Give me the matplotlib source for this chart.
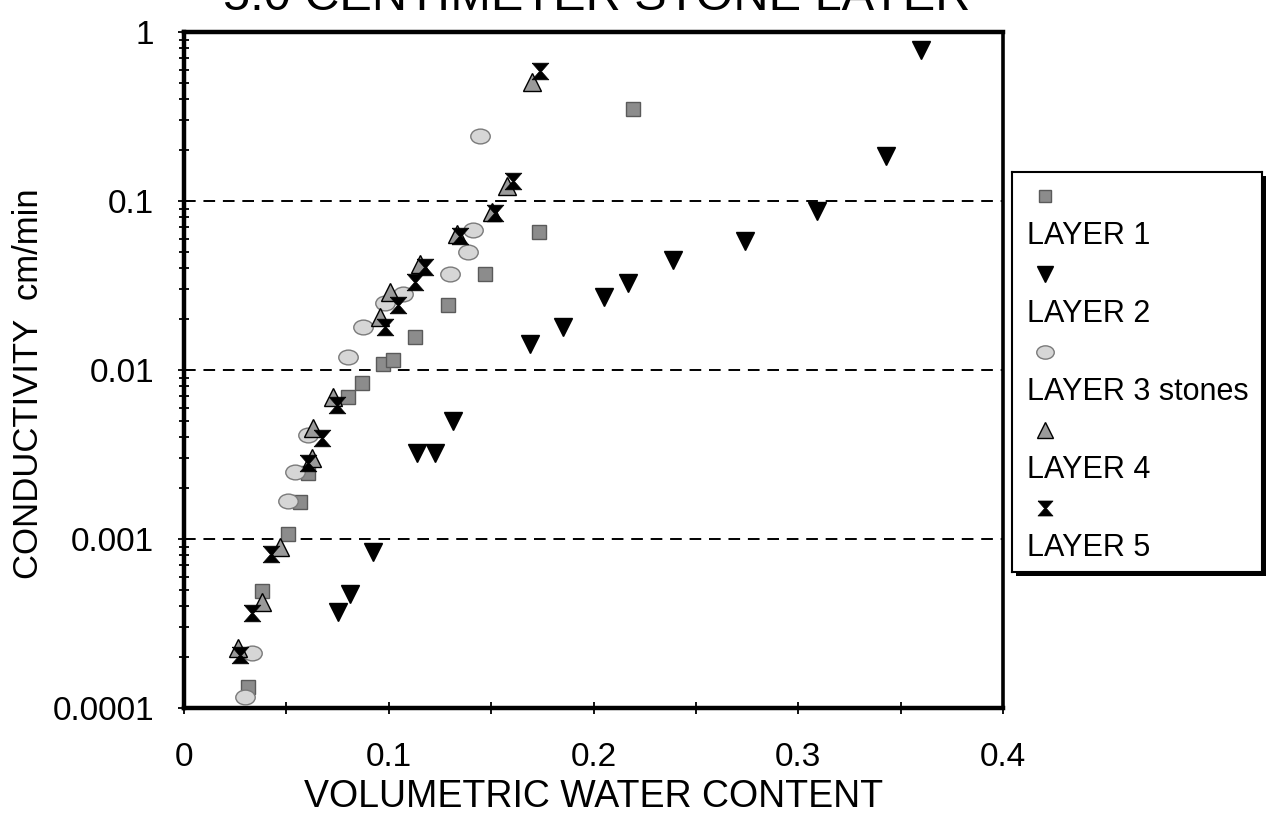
import numpy as np
import matplotlib
matplotlib.use("Agg")
import matplotlib.pyplot as plt
from matplotlib.path import Path
from matplotlib.patches import Rectangle
from matplotlib.ticker import FixedLocator, FuncFormatter, LogLocator, NullFormatter

plt.rcParams['font.family'] = ['Liberation Sans', 'DejaVu Sans']

# volumetric water content / conductivity (cm/min) per layer
layer1_theta = [0.0313, 0.0381, 0.0508, 0.0567, 0.0606, 0.0801, 0.0869, 0.0972,
                0.1021, 0.1128, 0.1289, 0.1470, 0.1734, 0.2193]
layer1_k = [1.33e-4, 4.9e-4, 1.07e-3, 1.66e-3, 2.47e-3, 6.9e-3, 8.4e-3, 0.0108,
            0.0114, 0.0156, 0.0244, 0.0368, 0.0653, 0.350]

layer2_theta = [0.0752, 0.0811, 0.0923, 0.1138, 0.1226, 0.1314, 0.169, 0.185,
                0.205, 0.217, 0.239, 0.274, 0.309, 0.343, 0.360]
layer2_k = [0.00037, 0.00047, 0.00084, 0.00324, 0.00324, 0.0050, 0.0142, 0.0179,
            0.0269, 0.0326, 0.0446, 0.0578, 0.087, 0.184, 0.78]

layer3_theta = [0.0298, 0.0332, 0.0508, 0.0542, 0.0606, 0.0801, 0.0874, 0.0982,
                0.1070, 0.1299, 0.1387, 0.1411, 0.1446]
layer3_k = [1.16e-4, 2.12e-4, 1.69e-3, 2.5e-3, 4.15e-3, 0.0119, 0.0179, 0.0248,
            0.028, 0.0368, 0.0497, 0.0671, 0.242]

layer4_theta = [0.0264, 0.0381, 0.0469, 0.0625, 0.0630, 0.0728, 0.0957, 0.1006,
                0.1153, 0.1333, 0.1504, 0.1578, 0.1700]
layer4_k = [2.27e-4, 4.25e-4, 9.0e-4, 3.03e-3, 4.56e-3, 6.97e-3, 0.0207, 0.0288,
            0.0422, 0.0635, 0.0858, 0.122, 0.506]

layer5_theta = [0.0274, 0.0332, 0.0425, 0.0606, 0.0674, 0.0747, 0.0982, 0.1045,
                0.1128, 0.1177, 0.1348, 0.1519, 0.1607, 0.1739]
layer5_k = [2.06e-4, 3.66e-4, 8.2e-4, 2.83e-3, 3.98e-3, 6.25e-3, 0.0179, 0.0241,
            0.0334, 0.0405, 0.0618, 0.0846, 0.131, 0.587]

labels = ['LAYER 1', 'LAYER 2', 'LAYER 3 stones', 'LAYER 4', 'LAYER 5']
grid_levels = [0.1, 0.01, 0.001]

# marker shapes: flattened ellipse and a bow-tie "hourglass"
circ = Path.unit_circle()
ellipse = Path(circ.vertices * np.array([1.25, 0.95]), circ.codes)
hourglass = [(-1, 1), (1, 1), (0.12, 0.0), (1, -1), (-1, -1), (-0.12, 0.0), (-1, 1)]

styles = [
    dict(marker='s', ms=10, mfc='#8c8c8c', mec='#5a5a5a', mew=1.0),
    dict(marker='v', ms=13, mfc='black', mec='black', mew=1.0),
    dict(marker=ellipse, ms=14, mfc='#d6d6d6', mec='#7a7a7a', mew=1.0),
    dict(marker='^', ms=13, mfc='#9a9a9a', mec='black', mew=1.0),
    dict(marker=hourglass, ms=12, mfc='black', mec='black', mew=0.5),
]
series = [(layer1_theta, layer1_k), (layer2_theta, layer2_k), (layer3_theta, layer3_k),
          (layer4_theta, layer4_k), (layer5_theta, layer5_k)]

fig = plt.figure(figsize=(12.72, 8.19), dpi=100)
ax = fig.add_axes([0.1447, 0.1355, 0.6439, 0.8254])

for y in grid_levels:
    ax.axhline(y, color='black', lw=1.4, ls=(0, (6, 4)), zorder=1)

for (th, k), st in zip(series, styles):
    ax.plot(th, k, ls='none', zorder=3, **st)

ax.set_yscale('log')
ax.set_xlim(0, 0.4)
ax.set_ylim(1e-4, 1)

ax.xaxis.set_major_locator(FixedLocator([0, 0.1, 0.2, 0.3, 0.4]))
ax.xaxis.set_minor_locator(FixedLocator([0.05, 0.15, 0.25, 0.35]))
ax.xaxis.set_major_formatter(FuncFormatter(lambda v, p: '{:g}'.format(round(v, 3))))
ax.yaxis.set_major_locator(LogLocator(base=10, numticks=10))
ax.yaxis.set_minor_locator(LogLocator(base=10, subs=np.arange(2, 10), numticks=10))
ax.yaxis.set_major_formatter(FuncFormatter(lambda v, p: '{:g}'.format(v)))
ax.yaxis.set_minor_formatter(NullFormatter())

ax.tick_params(axis='both', which='both', direction='inout', length=9, width=1.3,
               labelsize=24, right=False, top=False)
ax.tick_params(axis='y', which='major', pad=17)
ax.tick_params(axis='y', which='minor', length=7)
ax.tick_params(axis='x', which='major', pad=20)

for side in ['left', 'bottom', 'top']:
    ax.spines[side].set_linewidth(3.2)
ax.spines['right'].set_linewidth(2.6)

ax.set_xlabel('VOLUMETRIC WATER CONTENT', fontsize=27, labelpad=4)
ax.set_ylabel('CONDUCTIVITY  cm/min', fontsize=25)
ax.yaxis.set_label_coords(-0.17, 0.48)

fig.text(0.469, 1 - 10 / 819, '5.0 CENTIMETER STONE LAYER', fontsize=35,
         ha='center', va='baseline')

# boxed key: marker above each label, with a drop shadow
lx0, ly0, lw, lh = 1012 / 1272, (819 - 572) / 819, 250 / 1272, 400 / 819
fig.patches.append(Rectangle((lx0 + 4 / 1272, ly0 - 4 / 819), lw, lh,
                             transform=fig.transFigure, facecolor='black',
                             edgecolor='none', zorder=0.5))
lax = fig.add_axes([lx0, ly0, lw, lh])
lax.set_zorder(1)
lax.set_xlim(0, 1)
lax.set_ylim(0, 1)
lax.set_xticks([])
lax.set_yticks([])
for s in lax.spines.values():
    s.set_linewidth(1.5)
for i, (lab, st) in enumerate(zip(labels, styles)):
    top = 0.94 - i * 0.195
    st_small = dict(st)
    st_small['ms'] = st['ms'] * 0.9
    lax.plot([0.13], [top], ls='none', **st_small)
    lax.text(0.06, top - 0.10, lab, fontsize=22, va='center', ha='left')

fig.savefig('out.png', dpi=100)
